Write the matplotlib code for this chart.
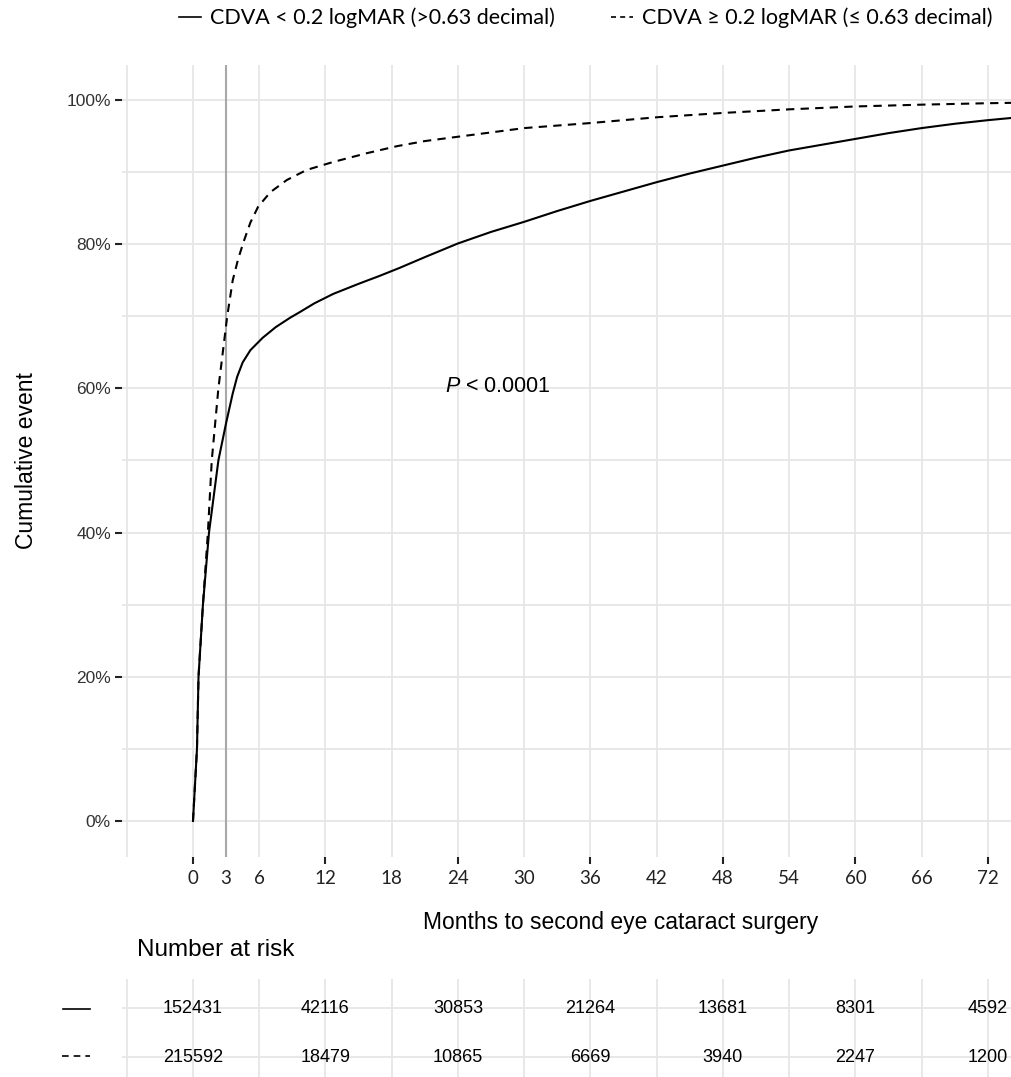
import numpy as np
import matplotlib
matplotlib.use("Agg")
import matplotlib.pyplot as plt
from matplotlib.lines import Line2D

plt.rcParams['font.family'] = ['Liberation Sans', 'DejaVu Sans']
plt.rcParams['mathtext.fontset'] = 'custom'
plt.rcParams['mathtext.it'] = 'Liberation Sans:italic'
plt.rcParams['mathtext.rm'] = 'Liberation Sans'

# cumulative event curves (months, percent)
t_good = [0, 0.36, 0.5, 0.9, 1.45, 2.3, 3.0, 3.6, 4.0, 4.5, 5.2, 6.3, 7.5, 8.8,
          9.7, 11, 12.7, 15, 16.9, 18.7, 21, 24, 27, 30, 33, 36, 39, 42, 45,
          48, 51, 54, 57, 60, 63, 66, 69, 72, 74.1]
cum_good = [0, 10, 20, 30, 40, 50, 55.2, 59.3, 61.6, 63.6, 65.3, 67.0, 68.5,
            69.8, 70.6, 71.8, 73.1, 74.5, 75.6, 76.7, 78.2, 80.1, 81.7, 83.1,
            84.6, 86.0, 87.3, 88.6, 89.8, 90.9, 92.0, 93.0, 93.8, 94.6, 95.4,
            96.1, 96.7, 97.2, 97.5]

t_poor = [0, 0.36, 0.5, 0.9, 1.35, 1.7, 2.3, 3.1, 3.6, 4.1, 4.6, 5.2, 5.9, 7.0,
          8.5, 10.3, 12.7, 15.7, 18.5, 21, 24, 30, 36, 42, 48, 54, 60, 66, 72,
          74.1]
cum_poor = [0, 10, 20, 30, 40, 50, 60, 70, 75, 78, 80.4, 83, 85.2, 87.2, 88.9,
            90.3, 91.4, 92.6, 93.6, 94.3, 94.9, 96.1, 96.8, 97.6, 98.2, 98.7,
            99.1, 99.35, 99.55, 99.6]

labels = ["CDVA < 0.2 logMAR (>0.63 decimal)",
          "CDVA \u2265 0.2 logMAR (\u2264 0.63 decimal)"]

# number at risk
risk_times = [0, 12, 24, 36, 48, 60, 72]
risk_good = [152431, 42116, 30853, 21264, 13681, 8301, 4592]
risk_poor = [215592, 18479, 10865, 6669, 3940, 2247, 1200]

xtick_major = [0, 12, 24, 36, 48, 60, 72]
xtick_minor = [3, 6, 18, 30, 42, 54, 66]
ytick_vals = [0, 20, 40, 60, 80, 100]
vline_t = 3

W, H = 1011, 1077
fig = plt.figure(figsize=(W / 100, H / 100), dpi=100)

xl = (-6.43, 74.09)
grid_c = '#e6e6e6'
lat = ['Lato', 'DejaVu Sans']

ax = fig.add_axes([122 / W, 1 - 857 / H, (W - 122) / W, (857 - 65) / H])
ax.set_xlim(xl)
ax.set_ylim(-5.0, 104.85)
for s in ax.spines.values():
    s.set_visible(False)
for g in np.arange(-6, 80, 6):
    ax.axvline(g, color=grid_c, lw=1.3, zorder=0)
for g in np.arange(0, 101, 10):
    ax.axhline(g, color=grid_c, lw=1.3, zorder=0)
ax.axvline(vline_t, color='#a8a8a8', lw=1.5, zorder=1)

ax.plot(t_good, cum_good, color='black', lw=1.5, zorder=3)
ax.plot(t_poor, cum_poor, color='black', lw=1.5, ls=(0, (4, 3)), zorder=3)

ax.set_yticks(ytick_vals)
ax.set_yticklabels([f"{v}%" for v in ytick_vals], fontsize=12.5, color='#333333')
ax.set_xticks(xtick_major)
ax.set_xticklabels([str(v) for v in xtick_major], fontsize=13.5, family=lat,
                   color='#222222')
ax.set_xticks(xtick_minor, minor=True)
ax.set_xticklabels([str(v) for v in xtick_minor], minor=True, fontsize=13.5,
                   family=lat, color='#222222')
ax.tick_params(axis='both', which='major', length=5, width=1.5, color='#222222')
ax.tick_params(axis='x', which='major', pad=4)
ax.tick_params(axis='x', which='minor', length=0, pad=9)
ax.tick_params(axis='y', pad=3)

ax.text(22.8, 60.2, r"$P$ < 0.0001", fontsize=15.5, va='center', ha='left')

fig.text(621 / W, 1 - 922 / H, "Months to second eye cataract surgery",
         fontsize=16.5, ha='center', va='center')
fig.text(27 / W, 1 - 461 / H, "Cumulative event", fontsize=16.5,
         rotation=90, ha='center', va='center')

handles = [Line2D([], [], color='black', lw=1.2),
           Line2D([], [], color='black', lw=1.2, ls=(0, (3, 2.5)))]
fig.legend(handles, labels, loc='center', bbox_to_anchor=(586 / W, 1 - 18 / H),
           ncol=2, frameon=False, prop={'family': lat, 'size': 15.5},
           handlelength=1.0, handletextpad=0.45, columnspacing=2.6)

# risk table
rax = fig.add_axes([122 / W, 0, (W - 122) / W, (1077 - 979) / H])
rax.set_xlim(xl)
rax.set_ylim(0.59, 2.6)
for s in rax.spines.values():
    s.set_visible(False)
rax.set_xticks([])
rax.set_yticks([])
for g in np.arange(-6, 80, 6):
    rax.axvline(g, color=grid_c, lw=1.3, zorder=0)
for row in (1, 2):
    rax.axhline(row, color=grid_c, lw=1.3, zorder=0)
for t, a, b in zip(risk_times, risk_good, risk_poor):
    rax.text(t, 2, str(a), ha='center', va='center', fontsize=13)
    rax.text(t, 1, str(b), ha='center', va='center', fontsize=13)

fig.text(137 / W, 1 - 950 / H, "Number at risk", fontsize=17.5,
         ha='left', va='center')
fig.add_artist(Line2D([63 / W, 90 / W], [1 - 1009 / H] * 2, color='black', lw=1.2))
fig.add_artist(Line2D([62 / W, 90 / W], [1 - 1056 / H] * 2, color='black', lw=1.2,
                      ls=(0, (4, 3))))

fig.savefig("out.png", dpi=100)
